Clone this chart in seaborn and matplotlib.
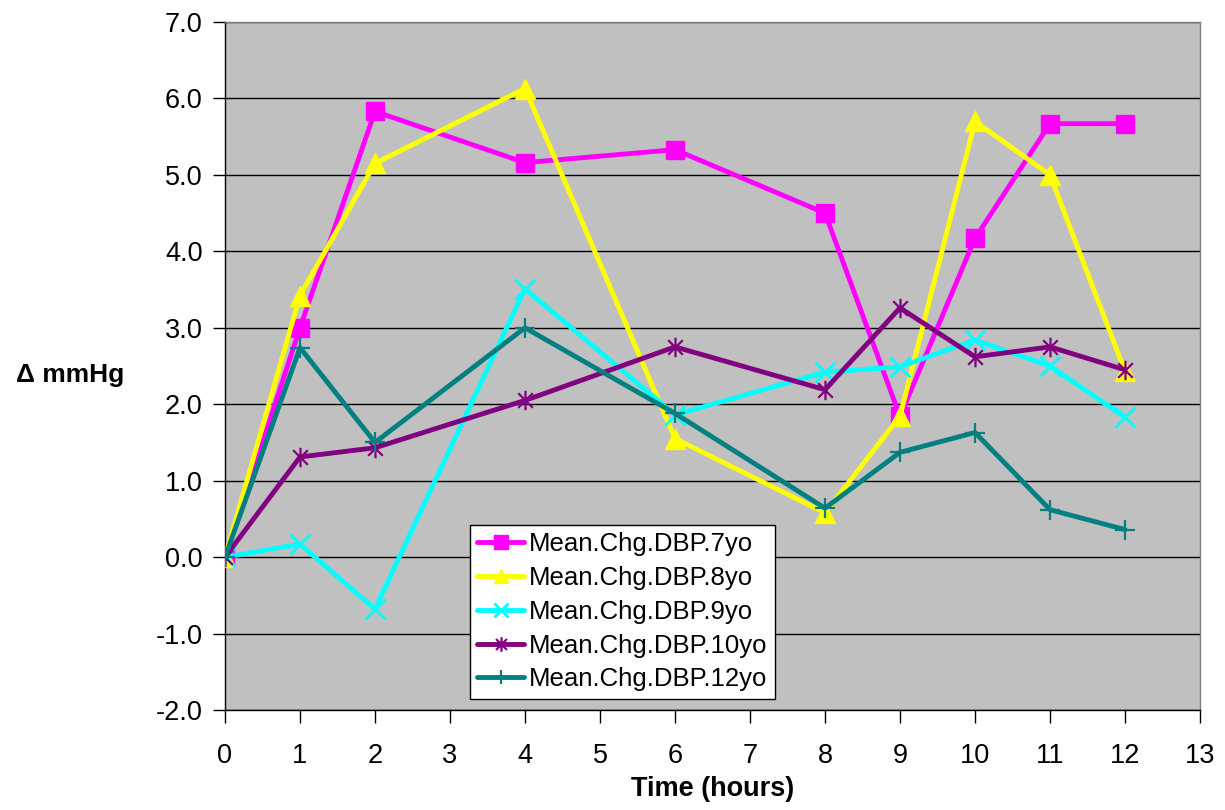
import matplotlib
matplotlib.use("Agg")
import matplotlib.pyplot as plt
from matplotlib.path import Path
import seaborn as sns
import numpy as np

hours = [0, 1, 2, 4, 6, 8, 9, 10, 11, 12]
dbp_7yo = [0.0, 3.00, 5.83, 5.16, 5.33, 4.50, 1.84, 4.17, 5.67, 5.67]
dbp_8yo = [0.0, 3.42, 5.15, 6.13, 1.55, 0.58, 1.84, 5.70, 5.00, 2.43]
dbp_9yo = [0.0, 0.17, -0.68, 3.51, 1.86, 2.42, 2.49, 2.84, 2.50, 1.83]
dbp_10yo = [0.0, 1.31, 1.43, 2.05, 2.75, 2.19, 3.26, 2.62, 2.75, 2.45]
dbp_12yo = [0.0, 2.74, 1.50, 3.00, 1.88, 0.64, 1.37, 1.63, 0.62, 0.36]
labels = ["Mean.Chg.DBP.7yo", "Mean.Chg.DBP.8yo", "Mean.Chg.DBP.9yo",
          "Mean.Chg.DBP.10yo", "Mean.Chg.DBP.12yo"]
y_ticks = [-2.0, -1.0, 0.0, 1.0, 2.0, 3.0, 4.0, 5.0, 6.0, 7.0]
x_ticks = list(range(0, 14))

sns.set_style("white")
plt.rcParams['font.family'] = ['Liberation Sans', 'DejaVu Sans']
plt.rcParams['text.color'] = 'black'
plt.rcParams['axes.labelcolor'] = 'black'
plt.rcParams['xtick.color'] = 'black'
plt.rcParams['ytick.color'] = 'black'

asterisk = Path([(0, -1), (0, 1), (-0.75, -0.75), (0.75, 0.75), (-0.75, 0.75), (0.75, -0.75)],
                [Path.MOVETO, Path.LINETO, Path.MOVETO, Path.LINETO, Path.MOVETO, Path.LINETO])

series = [dbp_7yo, dbp_8yo, dbp_9yo, dbp_10yo, dbp_12yo]
colors = ["#FF00FF", "#FFFF00", "#00FFFF", "#800080", "#008080"]
markers = ["s", "^", "x", asterisk, "+"]
msizes = [13, 14, 14, 14, 14]
mews = [1, 1, 2, 1.6, 1.6]

fig = plt.figure(figsize=(12.25, 8.1), dpi=100)
ax = fig.add_axes([225/1225, 1-710/810, 975/1225, 688/810])
ax.set_facecolor("#C0C0C0")

for vals, lab, c, m, ms, mew in zip(series, labels, colors, markers, msizes, mews):
    sns.lineplot(x=hours, y=vals, ax=ax, color=c, linewidth=3.5, marker=m,
                 markersize=ms, markeredgewidth=mew, markeredgecolor=c,
                 markerfacecolor=c, label=lab, zorder=3)

ax.set_xlim(0, 13)
ax.set_ylim(-2, 7)
ax.set_xticks(x_ticks)
ax.set_xticklabels([str(t) for t in x_ticks])
ax.set_yticks(y_ticks)
ax.set_yticklabels([f"{v:.1f}" for v in y_ticks])
ax.grid(axis="y", color="black", linewidth=1)
ax.grid(axis="x", visible=False)
ax.set_axisbelow(True)
ax.tick_params(axis="both", direction="out", length=9, width=1, color="black",
               labelcolor="black", labelsize=19.5, bottom=True, left=True)
ax.tick_params(axis="y", pad=7)
ax.tick_params(axis="x", pad=15)
for s in ["left", "bottom"]:
    ax.spines[s].set_color("black")
    ax.spines[s].set_linewidth(1)
for s in ["top", "right"]:
    ax.spines[s].set_color("#808080")
    ax.spines[s].set_linewidth(1)

ax.set_xlabel("Time (hours)", fontsize=19.5, fontweight="bold", labelpad=5, color="black")
ax.set_ylabel("Δ mmHg", fontsize=19, fontweight="bold", rotation=0, labelpad=0, color="black")
ax.yaxis.set_label_coords(-0.159, 0.487)
ax.yaxis.label.set_verticalalignment("center")

leg = ax.legend(loc="lower left", bbox_to_anchor=(0.251, 0.016), fontsize=18.5,
                frameon=True, fancybox=False, edgecolor="black", framealpha=1,
                markerscale=0.75, handlelength=1.8, borderpad=0.3, labelspacing=0.38,
                handletextpad=0.2, borderaxespad=0)
leg.get_frame().set_linewidth(1)
leg.get_frame().set_facecolor("white")
for t in leg.get_texts():
    t.set_color("black")

fig.savefig("out.png", dpi=100)
